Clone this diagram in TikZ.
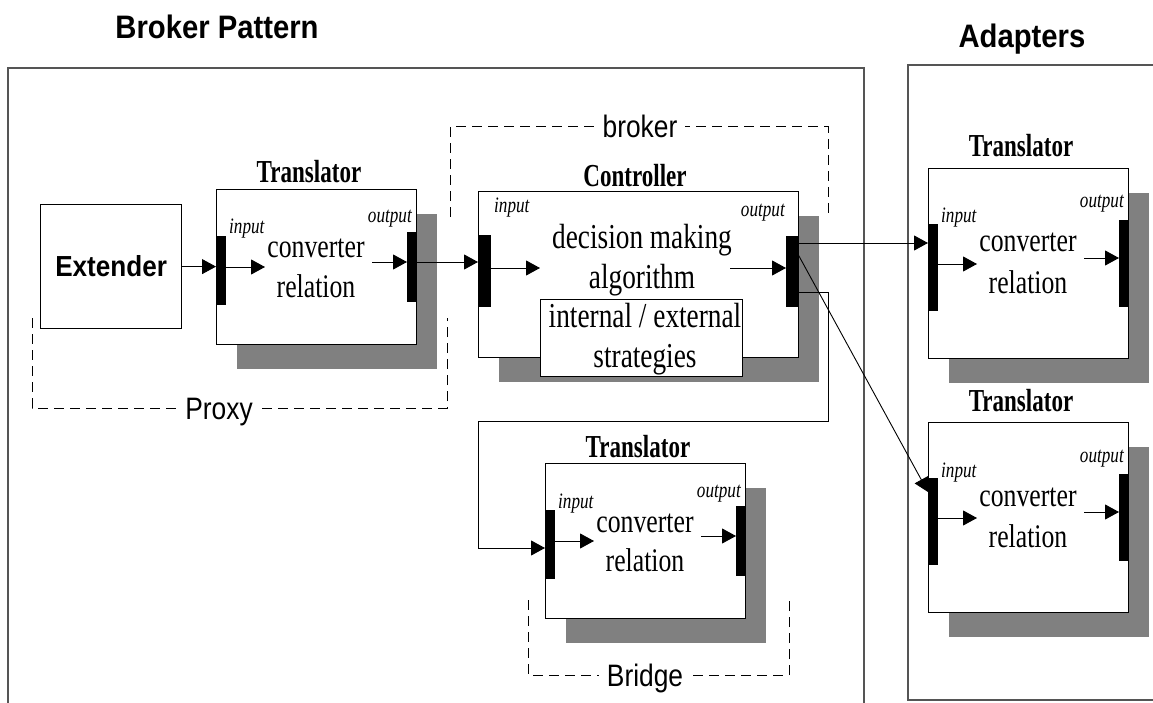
\documentclass[tikz,border=0pt]{standalone}
\usepackage{fontspec}
\setmainfont{Liberation Serif}[FakeStretch=0.78]
\newfontfamily\ttlfont{Liberation Serif}[FakeStretch=0.72]
\newfontfamily\sansf{Liberation Sans}[FakeStretch=0.9]
\newfontfamily\grpfont{Liberation Sans}[FakeStretch=0.85]
\usetikzlibrary{arrows.meta,calc}
\definecolor{shade}{RGB}{128,128,128}
\definecolor{frame}{RGB}{85,85,85}
\tikzset{
 shadowbox/.style={fill=shade, anchor=north west, inner sep=0pt, minimum width=200pt},
 tbox/.style={draw=black, line width=1.2pt, fill=white, anchor=north west, inner sep=0pt, minimum width=200pt},
 bar/.style={fill=black, anchor=north west, inner sep=0pt},
 arr/.style={-{Triangle[length=14pt,width=15pt]}, line width=0.9pt},
 lbl/.style={font=\itshape\fontsize{22}{26}\selectfont, inner sep=0pt},
 body/.style={font=\fontsize{33}{40}\selectfont, inner sep=0pt, anchor=base},
 cbody/.style={font=\fontsize{35}{40}\selectfont, inner sep=0pt, anchor=base},
 ttl/.style={font=\ttlfont\bfseries\fontsize{32}{38}\selectfont, inner sep=0pt, anchor=base},
 grp/.style={dash pattern=on 10pt off 6pt, line width=1pt},
 grplbl/.style={font=\grpfont\fontsize{31}{34}\selectfont, fill=white, inner xsep=8pt, inner ysep=1pt, anchor=base},
 outer/.style={draw=frame, line width=1.6pt},
 head/.style={font=\sansf\bfseries\fontsize{32.5}{38}\selectfont, anchor=base, inner sep=0pt},
}
% translator block: #1 name, #2 left, #3 top
\newcommand\mktrans[3]{%
 \begin{scope}[shift={(#2,#3)}]
  \node[shadowbox, minimum height=\bkH] (#1sh) at (20.5,24.5) {};
  \node[tbox, minimum height=\bkH] (#1) at (0,0) {};
  \node[bar, minimum width=10, minimum height=\bkIb-\bkIa] (#1in) at (0,\bkIa) {};
  \node[bar, minimum width=9, minimum height=\bkOb-\bkOa] (#1out) at (191,\bkOa) {};
  \coordinate (#1ia) at (49,\bkIy);
  \coordinate (#1oa) at (156,\bkOy);
  \draw[arr] (#1in.east |- #1ia) -- (#1ia);
  \draw[arr] (#1oa) -- (#1oa -| #1out.west);
  \node[lbl, anchor=base west] (#1il) at (13,\bkLi) {input};
  \node[lbl, anchor=base east] (#1ol) at (196,\bkLo) {output};
  \node[body] (#1c) at (100,\bkC) {converter};
  \node[body] (#1r) at (100,\bkR) {relation};
  \node[ttl] (#1t) at (93,\bkT) {Translator};
 \end{scope}}
\begin{document}
\begin{tikzpicture}[x=1pt,y=-1pt]
\useasboundingbox (0,0) rectangle (1153,703);
\fill[white] (0,0) rectangle (1153,703);
% titles and frames
\node[head] (hbp) at (217,39) {Broker Pattern};
\node[head] (had) at (1022,48) {Adapters};
\draw[outer] (8,703) -- (8,68) -- (864,68) -- (864,703);
\draw[outer] (1153,65) -- (908,65) -- (908,700) -- (1153,700);
% dashed groups
\draw[grp] (450,217) -- (450,127) -- (828,127) -- (828,217);
\node[grplbl] (brk) at (640,138) {broker};
\draw[grp] (32,318) -- (32,408) -- (447,408) -- (447,318);
\node[grplbl] (prx) at (219,419) {Proxy};
\draw[grp] (528,600) -- (528,675) -- (789,675) -- (789,600);
\node[grplbl] (brg) at (645,686) {Bridge};
% extender
\node[draw=black, line width=1.2pt, fill=white, anchor=north west, inner sep=0pt,
      minimum width=141, minimum height=124,
      font=\sansf\bfseries\fontsize{29}{34}\selectfont] (ext) at (40,204) {Extender};
% small translators
\def\bkH{155}\def\bkIa{47}\def\bkIb{116}\def\bkIy{78}
\def\bkOa{43}\def\bkOb{113}\def\bkOy{73}
\def\bkLi{45}\def\bkLo{34}\def\bkC{69}\def\bkR{108}\def\bkT{-6}
\mktrans{ta}{216}{189}
\mktrans{tb}{545}{463}
% large translators
\def\bkH{190}\def\bkIa{56}\def\bkIb{143}\def\bkIy{96}
\def\bkOa{52}\def\bkOb{139}\def\bkOy{90}
\def\bkLi{55}\def\bkLo{40}\def\bkC{84}\def\bkR{125}\def\bkT{-11}
\mktrans{aa}{928}{168}
\mktrans{ab}{928}{422}
% controller
\node[shadowbox, minimum width=320, minimum height=166] (ctlsh) at (499,216) {};
\node[tbox, minimum width=320, minimum height=166] (ctl) at (478,191) {};
\node[bar, minimum width=13, minimum height=72] (ctlin) at (478,235) {};
\node[bar, minimum width=12, minimum height=71] (ctlout) at (786,236) {};
\node[tbox, minimum width=202, minimum height=77] (strat) at (540,299) {};
\node[ttl] (ctlt) at (635,187) {Controller};
\node[lbl, anchor=base west] (ctlil) at (494,213) {input};
\node[lbl, anchor=base east] (ctlol) at (785,217) {output};
\node[cbody] (dm1) at (642,248) {decision making};
\node[cbody] (dm2) at (642,288) {algorithm};
\node[cbody] (st1) at (645,327) {internal / external};
\node[cbody] (st2) at (645,367) {strategies};
\coordinate (cia) at (540,268);
\coordinate (coa) at (730,268);
\draw[arr] (ctlin.east |- cia) -- (cia);
\draw[arr] (coa) -- (coa -| ctlout.west);
% connectors
\draw[arr] (ext.east) -- (ext.east -| tain.west);
\draw[arr] (taout.east |- taoa) -- (taoa -| ctlin.west);
\draw[arr] ($(ctlout.north east)+(0,7)$) -- ($(aain.north west)+(0,19)$);
\draw[arr] ($(ctlout.north east)+(0,19)$) -- ($(abin.north west)+(0,14)$);
\coordinate (ea) at (828,421);
\coordinate (eb) at (478,421);
\draw[arr] ($(ctlout.north east)+(0,56)$) -| (ea) -- (eb) |- ($(tbin.north west)+(0,38)$);
\end{tikzpicture}
\end{document}
